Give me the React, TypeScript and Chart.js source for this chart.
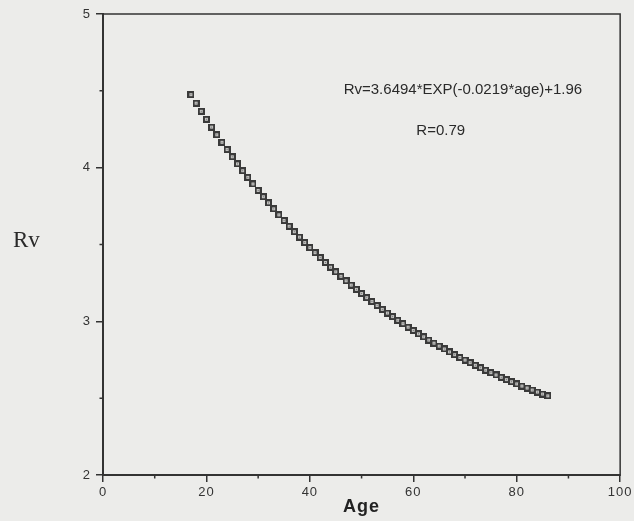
import React, { useEffect, useRef } from "react";
import { Chart, registerables } from "chart.js";

Chart.register(...registerables);

// Age (years) of each plotted point
const ages = [
  17, 18, 19, 20, 21, 22, 23, 24, 25, 26,
  27, 28, 29, 30, 31, 32, 33, 34, 35, 36,
  37, 38, 39, 40, 41, 42, 43, 44, 45, 46,
  47, 48, 49, 50, 51, 52, 53, 54, 55, 56,
  57, 58, 59, 60, 61, 62, 63, 64, 65, 66,
  67, 68, 69, 70, 71, 72, 73, 74, 75, 76,
  77, 78, 79, 80, 81, 82, 83, 84, 85, 86,
];

// Rv value read for each age
const rv = [
  4.475, 4.420, 4.367, 4.315, 4.264, 4.214, 4.165, 4.118, 4.071, 4.025,
  3.980, 3.937, 3.894, 3.852, 3.811, 3.771, 3.732, 3.693, 3.656, 3.619,
  3.583, 3.548, 3.513, 3.480, 3.447, 3.415, 3.383, 3.352, 3.322, 3.293,
  3.264, 3.236, 3.208, 3.181, 3.154, 3.129, 3.103, 3.078, 3.054, 3.031,
  3.007, 2.985, 2.962, 2.941, 2.919, 2.899, 2.878, 2.858, 2.839, 2.820,
  2.801, 2.783, 2.765, 2.748, 2.731, 2.714, 2.698, 2.682, 2.666, 2.651,
  2.636, 2.621, 2.607, 2.593, 2.579, 2.566, 2.553, 2.540, 2.527, 2.515,
];

const xMinorTicks = [10, 30, 50, 70, 90];
const yMinorTicks = [2.5, 3.5, 4.5];

const equationText = "Rv=3.6494*EXP(-0.0219*age)+1.96";
const rText = "R=0.79";
const yAxisLabel = "Rv";
const xAxisLabel = "Age";

const SANS = "'Liberation Sans', Arial, Helvetica, sans-serif";
const SERIF = "'Liberation Serif', 'Times New Roman', serif";
const INK = "#333333";

function makeMarker(): HTMLCanvasElement {
  const c = document.createElement("canvas");
  c.width = 7;
  c.height = 7;
  const g = c.getContext("2d")!;
  g.fillStyle = "#3a3a3a";
  g.fillRect(0, 0, 7, 7);
  g.fillStyle = "#c4c4c2";
  g.fillRect(2, 2, 3, 3);
  g.fillStyle = "#707070";
  g.fillRect(3, 3, 1, 1);
  return c;
}

const decorPlugin = {
  id: "decor",
  beforeDraw(chart: any) {
    (chart.ctx as any).letterSpacing = "1px";
  },
  beforeDatasetsDraw(chart: any) {
    (chart.ctx as any).letterSpacing = "0px";
  },
  afterDraw(chart: any) {
    const { ctx, chartArea: a, scales } = chart;
    const x = scales.x;
    const y = scales.y;
    ctx.save();
    (ctx as any).letterSpacing = "0px";
    ctx.strokeStyle = INK;
    ctx.lineWidth = 1.5;
    ctx.beginPath();
    ctx.moveTo(a.left, a.top);
    ctx.lineTo(a.right, a.top);
    ctx.lineTo(a.right, a.bottom + 1);
    ctx.stroke();

    ctx.beginPath();
    for (const v of xMinorTicks) {
      const px = x.getPixelForValue(v);
      ctx.moveTo(px, a.bottom);
      ctx.lineTo(px, a.bottom + 3.5);
    }
    for (const v of yMinorTicks) {
      const py = y.getPixelForValue(v);
      ctx.moveTo(a.left, py);
      ctx.lineTo(a.left - 3.5, py);
    }
    ctx.stroke();

    ctx.fillStyle = "#2a2a2a";
    ctx.font = `15px ${SANS}`;
    ctx.textAlign = "center";
    ctx.textBaseline = "middle";
    ctx.fillText(equationText, x.getPixelForValue(69.6), y.getPixelForValue(4.505));
    ctx.fillText(rText, x.getPixelForValue(65.3), y.getPixelForValue(4.24));

    ctx.font = `23px ${SERIF}`;
    ctx.textAlign = "left";
    ctx.fillStyle = "#2a2a2a";
    ctx.fillText(yAxisLabel, 13, 241);
    ctx.restore();
  },
};

export default function App() {
  const ref = useRef<HTMLCanvasElement | null>(null);

  useEffect(() => {
    if (!ref.current) return;
    const marker = makeMarker();
    const chart = new Chart(ref.current, {
      type: "scatter",
      data: {
        datasets: [
          {
            data: ages.map((a, i) => ({ x: a, y: rv[i] })),
            pointStyle: marker as any,
            pointRadius: 3.5,
            pointHoverRadius: 3.5,
            showLine: false,
          },
        ],
      },
      options: {
        animation: false,
        responsive: false,
        events: [],
        layout: { padding: { top: 14, right: 12, left: 0, bottom: 0 } },
        plugins: {
          legend: { display: false },
          tooltip: { enabled: false },
        },
        scales: {
          x: {
            type: "linear",
            position: "bottom",
            min: 0,
            max: 100,
            ticks: {
              stepSize: 20,
              color: INK,
              font: { family: SANS, size: 13 },
              padding: 3,
              maxRotation: 0,
              autoSkip: false,
            },
            grid: {
              drawOnChartArea: false,
              drawTicks: true,
              tickLength: 7,
              color: INK,
              lineWidth: 1.5,
            },
            border: { display: true, color: INK, width: 2 },
            title: {
              display: true,
              text: xAxisLabel,
              color: "#222",
              font: { family: SANS, size: 18, weight: "bold" },
              padding: { top: 0, bottom: 3 },
            },
            afterFit(scale: any) {
              scale.height = 46;
            },
          },
          y: {
            type: "linear",
            min: 2,
            max: 5,
            ticks: {
              stepSize: 1,
              color: INK,
              font: { family: SANS, size: 13 },
              padding: 5,
            },
            grid: {
              drawOnChartArea: false,
              drawTicks: true,
              tickLength: 7,
              color: INK,
              lineWidth: 1.5,
            },
            border: { display: true, color: INK, width: 2 },
            afterFit(scale: any) {
              scale.width = 103;
            },
          },
        },
      },
      plugins: [decorPlugin],
    });
    return () => chart.destroy();
  }, []);

  return (
    <div
      style={{
        position: "absolute",
        left: 0,
        top: 0,
        width: 634,
        height: 521,
        background: "#ececea",
        overflow: "hidden",
      }}
    >
      <canvas ref={ref} width={634} height={521} style={{ display: "block" }} />
    </div>
  );
}
